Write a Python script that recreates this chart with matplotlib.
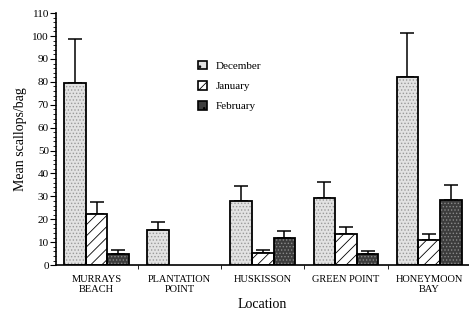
import numpy as np
import matplotlib
matplotlib.use('Agg')
from matplotlib import pyplot as plt
from matplotlib.ticker import MultipleLocator, FixedLocator
from matplotlib.patches import Patch

plt.rcParams['font.family'] = ['Liberation Serif', 'DejaVu Serif']
plt.rcParams['hatch.linewidth'] = 0.6

locations = ['MURRAYS\nBEACH', 'PLANTATION\nPOINT', 'HUSKISSON', 'GREEN POINT', 'HONEYMOON\nBAY']
months = ['December', 'January', 'February']
dec = [79.5, 15.5, 28, 29.5, 82]
jan = [22.5, 0, 5.5, 13.5, 11]
feb = [5, 0, 12, 5, 28.5]
dec_top = [98.5, 19, 34.5, 36.5, 101.5]
jan_top = [27.5, 0, 6.5, 16.5, 13.5]
feb_top = [6.5, 0, 15, 6, 35]

fig = plt.figure(figsize=(4.69, 3.13), dpi=100)
ax = fig.add_axes([0.119, 0.153, 0.881, 0.805])

x = np.arange(len(locations))
w = 0.26
# facecolor, hatch, hatch colour
styles = [('#e2e2e2', '.....', '#9a9a9a'), ('white', '///', 'black'), ('#3c3c3c', '.....', '#8a8a8a')]
series = [(dec, dec_top), (jan, jan_top), (feb, feb_top)]
handles = []
for k, ((vals, tops), (fc, hat, hc)) in enumerate(zip(series, styles)):
    vals = np.array(vals, float)
    tops = np.array(tops, float)
    pos = x + (k - 1) * w
    mask = vals > 0
    # fill + hatch first, then the black outline on top
    ax.bar(pos[mask], vals[mask], w, color=fc, edgecolor=hc, linewidth=0, hatch=hat, zorder=2)
    ax.bar(pos[mask], vals[mask], w, fill=False, edgecolor='black', linewidth=1.3, zorder=3)
    err = np.vstack([np.zeros(mask.sum()), tops[mask] - vals[mask]])
    ax.errorbar(pos[mask], vals[mask], yerr=err, fmt='none', ecolor='black',
                elinewidth=1.1, capsize=5, capthick=1.1, zorder=1)
    handles.append(Patch(facecolor=fc, edgecolor='black', hatch=hat if k == 1 else '..', linewidth=1.2))

ax.set_xlim(-0.49, 4.48)
ax.set_ylim(0, 110)
ax.spines['top'].set_visible(False)
ax.spines['right'].set_visible(False)
ax.spines['left'].set_linewidth(1.2)
ax.spines['bottom'].set_linewidth(1.2)

ax.set_xticks(x)
ax.set_xticklabels(locations, fontsize=7.5, linespacing=1.1)
ax.tick_params(axis='x', which='major', length=0, pad=7)
ax.xaxis.set_minor_locator(FixedLocator(x[:-1] + 0.5))
ax.tick_params(axis='x', which='minor', length=3, direction='out')

ax.yaxis.set_major_locator(MultipleLocator(10))
ax.yaxis.set_minor_locator(MultipleLocator(2))
ax.tick_params(axis='y', which='major', length=4, labelsize=8, pad=1)
ax.tick_params(axis='y', which='minor', length=2)

ax.set_ylabel('Mean scallops/bag', fontsize=10)
ax.set_xlabel('Location', fontsize=10, labelpad=3)

ax.legend(handles, months, loc='upper left', bbox_to_anchor=(0.32, 0.85), frameon=False, fontsize=8,
          handlelength=0.8, handleheight=0.8, labelspacing=0.9, handletextpad=0.8)

fig.savefig('out.png', dpi=100)
